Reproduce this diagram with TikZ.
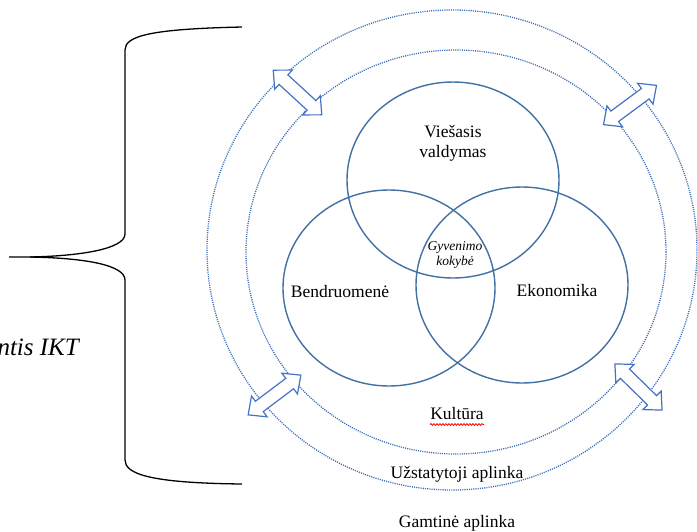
\documentclass[tikz,border=0pt]{standalone}
\usepackage{fontspec}
\setmainfont{Liberation Serif}
\usetikzlibrary{decorations.pathmorphing}
\definecolor{vennblue}{RGB}{65,113,165}
\definecolor{dotblue}{RGB}{62,112,185}
\definecolor{arrowblue}{RGB}{68,114,196}
\tikzset{
  venn/.style={draw=vennblue, line width=1.4pt},
  dotring/.style={draw=dotblue, line width=1.3pt, dash pattern=on 1.1pt off 1.1pt},
  arrowline/.style={draw=arrowblue, fill=white, line width=1.2pt, line join=miter},
  brace/.style={draw=black, line width=1.3pt},
  lbl/.style={font=\fontsize{17.5}{20}\selectfont, inner sep=0pt, anchor=base},
  smalllbl/.style={font=\fontsize{13.5}{15}\selectfont\itshape, inner sep=0pt, anchor=base},
  dblarrow/.pic={\draw[arrowline] (-33,0) -- (-19,13) -- (-19,6.5) -- (19,6.5) -- (19,13) -- (33,0)
      -- (19,-13) -- (19,-6.5) -- (-19,-6.5) -- (-19,-13) -- cycle;}
}
\begin{document}
\begin{tikzpicture}[x=1pt, y=-1pt]
\fill[white] (0,0) rectangle (697,531);
\useasboundingbox (0,0) rectangle (697,531);

% brace
\draw[brace] (242,27) .. controls (150,29) and (125,36) .. (125,50) -- (125,234)
   .. controls (125,249) and (80,256) .. (30,257) -- (9,257);
\draw[brace] (30,257) .. controls (85,258) and (125,265) .. (125,280) -- (125,460)
   .. controls (125,474) and (150,483) .. (242,484);
\node[font=\fontsize{25}{30}\selectfont\itshape, inner sep=0pt, anchor=base east] (ikt) at (79,355) {ntis IKT};

% dotted rings
\draw[dotring] (452,250) ellipse [x radius=245, y radius=240];
\draw[dotring] (456,252) ellipse [x radius=210, y radius=202];

% arrows
\pic[rotate=-42.6] at (297.5,92.5) {dblarrow};
\pic[rotate=36.5] at (630,105) {dblarrow};
\pic[rotate=37] at (274.5,395) {dblarrow};
\pic[rotate=-44.4] at (638.5,387) {dblarrow};

% venn circles
\draw[venn] (453,180) ellipse [x radius=106, y radius=98];
\draw[venn] (389,288) ellipse [x radius=106, y radius=98];
\draw[venn] (522,285) ellipse [x radius=106, y radius=98];

% labels
\node[lbl] (vies1) at (453,137) {Viešasis};
\node[lbl] (vies2) at (453,157) {valdymas};
\node[smalllbl] (gyv1) at (455,250) {Gyvenimo};
\node[smalllbl] (gyv2) at (455,265) {kokybė};
\node[lbl] (bend) at (340,297) {Bendruomenė};
\node[lbl] (ekon) at (557,296) {Ekonomika};
\node[lbl] (kult) at (457,419) {Kultūra};
\draw[red, line width=0.8pt, decorate, decoration={snake, amplitude=0.9pt, segment length=3pt}] (430,424.5) -- (484,424.5);
\node[lbl] (uzst) at (457,478) {Užstatytoji aplinka};
\node[lbl] (gamt) at (457,527) {Gamtinė aplinka};
\end{tikzpicture}
\end{document}
